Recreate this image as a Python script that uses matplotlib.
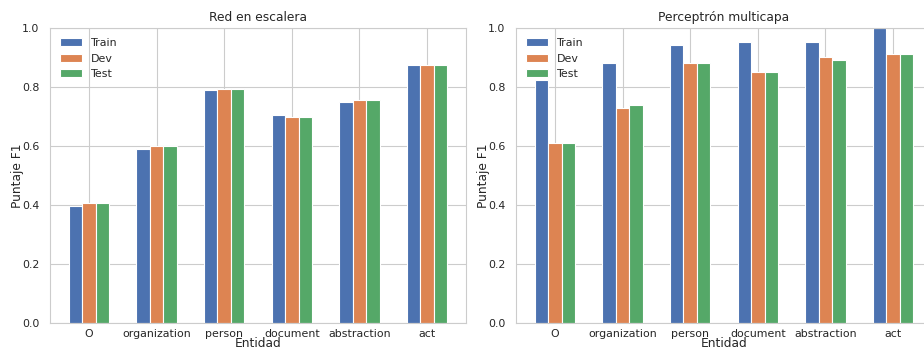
import numpy as np
import matplotlib
matplotlib.use("Agg")
import matplotlib.pyplot as plt
import seaborn as sns

entidades = ['O', 'organization', 'person', 'document', 'abstraction', 'act']
series = ['Train', 'Dev', 'Test']

escalera_train = [0.395, 0.589, 0.792, 0.706, 0.750, 0.874]
escalera_dev = [0.407, 0.600, 0.795, 0.699, 0.755, 0.877]
escalera_test = [0.407, 0.600, 0.795, 0.699, 0.755, 0.877]

mlp_train = [0.823, 0.882, 0.943, 0.953, 0.953, 1.0]
mlp_dev = [0.609, 0.730, 0.882, 0.851, 0.902, 0.912]
mlp_test = [0.609, 0.739, 0.882, 0.851, 0.892, 0.912]

sns.set_style("whitegrid")
colors = sns.color_palette("deep")[:3]

fig = plt.figure(figsize=(9.24, 3.5), dpi=100)
W, H = 924, 350
ax1 = fig.add_axes([50 / W, 1 - 322.7 / H, 416 / W, 294.4 / H])
ax2 = fig.add_axes([516 / W, 1 - 322.7 / H, 416 / W, 294.4 / H])

x = np.arange(len(entidades))
width = 0.2

def draw(ax, vals, title):
    for i, (name, v) in enumerate(zip(series, vals)):
        ax.bar(x + (i - 1) * width, v, width, color=colors[i], label=name,
               edgecolor='white', linewidth=0.8, zorder=2)
    ax.set_xticks(x)
    ax.set_xticklabels(entidades, fontsize=7.9)
    ax.set_xlim(-0.58, len(entidades) - 0.42)
    ax.set_ylim(0, 1.0)
    ax.set_yticks([0.0, 0.2, 0.4, 0.6, 0.8, 1.0])
    ax.tick_params(axis='y', labelsize=7.9, pad=4)
    ax.tick_params(axis='x', pad=1)
    ax.set_xlabel('Entidad', fontsize=8.8, labelpad=-1.5)
    ax.set_ylabel('Puntaje F1', fontsize=8.8, labelpad=-1)
    ax.set_title(title, fontsize=8.8, pad=5)
    ax.grid(True, zorder=0)
    ax.set_axisbelow(True)
    ax.legend(loc='upper left', fontsize=7.9, frameon=False)

draw(ax1, [escalera_train, escalera_dev, escalera_test], 'Red en escalera')
draw(ax2, [mlp_train, mlp_dev, mlp_test], 'Perceptrón multicapa')

fig.savefig('out.png', dpi=100)
